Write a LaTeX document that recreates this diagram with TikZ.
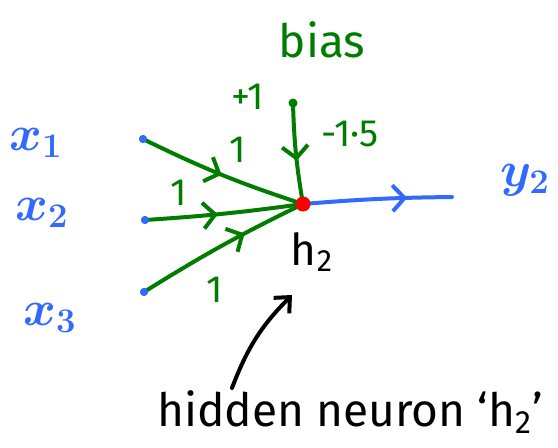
\documentclass[tikz,border=0pt]{standalone}
\usepackage{fontspec}
\setmainfont{Fira Sans}
\usetikzlibrary{arrows.meta,decorations.markings}
\definecolor{WeightClr}{RGB}{0,125,0}
\definecolor{InputClr}{RGB}{50,105,255}
\definecolor{NeuronClr}{RGB}{250,0,0}

\tikzset{
  wire/.style={line width=2pt,line cap=round,line join=round},
  midarrow/.style={postaction={decorate},
    decoration={markings,mark=at position #1 with {\arrow{Straight Barb[length=6pt,width=13pt]}}}},
  indot/.style={circle,fill=InputClr,inner sep=0pt,minimum size=4pt},
  wlabel/.style={text=WeightClr,font=\fontsize{19}{22}\selectfont},
  inlabel/.style={text=InputClr,font=\fontsize{25}{30}\selectfont\boldmath}
}

\begin{document}
\begin{tikzpicture}[x=0.5pt,y=-0.5pt]
\useasboundingbox (0,0) rectangle (558,447);

\node[indot] (in1) at (143,139) {};
\node[indot] (in2) at (145,220) {};
\node[indot] (in3) at (144,292) {};
\node[circle,fill=WeightClr,inner sep=0pt,minimum size=4.5pt] (b) at (293,103) {};
\node[circle,inner sep=0pt,minimum size=7.5pt] (h) at (303,204) {};
\coordinate (out) at (452,197);

\draw[wire,WeightClr,midarrow=0.5] (in1.center) to[bend right=4] (h.center);
\draw[wire,WeightClr,midarrow=0.46] (in2.center) to[bend right=2] (h.center);
\draw[wire,WeightClr,midarrow=0.64] (in3.center) to[bend left=3] (h.center);
\draw[wire,WeightClr,midarrow=0.57] (b.center) to[bend right=4] (h.center);
\draw[wire,InputClr,midarrow=0.7] (h.center) to[bend left=2] (out);

\node[indot] at (in1) {};
\node[indot] at (in2) {};
\node[indot] at (in3) {};
\node[circle,fill=NeuronClr,inner sep=0pt,minimum size=7.5pt] at (h) {};

\node[inlabel] (x1) at (36,143) {$x_1$};
\node[inlabel] (x2) at (42,213) {$x_2$};
\node[inlabel] (x3) at (50,318) {$x_3$};
\node[inlabel] (y) at (525,180) {$y_2$};

\node[wlabel] (w1) at (238,150) {1};
\node[wlabel] (w2) at (179,193) {1};
\node[wlabel] (w3) at (215,290) {1};
\node[wlabel] (one) at (248,97) {+1};
\node[wlabel] (wb) at (350,134) {-1·5};
\node[text=WeightClr,font=\fontsize{23}{28}\selectfont] (bias) at (322,40) {bias};

\node[font=\fontsize{22}{26}\selectfont] (hlabel) at (312,252) {h\textsubscript{2}};
\node[font=\fontsize{23}{28}\selectfont] (caption) at (350,412) {hidden neuron ‘h\textsubscript{2}’};

\coordinate (tail) at (232,388);
\coordinate (tip) at (292,295);
\draw[wire,-{Straight Barb[length=6pt,width=11pt]}] (tail) to[bend left=12] (tip);

\end{tikzpicture}
\end{document}
